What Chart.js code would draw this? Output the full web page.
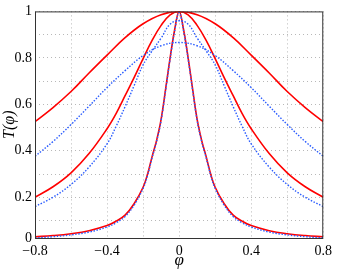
<!DOCTYPE html>
<html>
<head>
<meta charset="utf-8">
<script src="https://cdn.jsdelivr.net/npm/chart.js@4"></script>
<style>
  html, body { margin: 0; padding: 0; background: #fff; }
  #wrap { width: 337px; height: 273px; }
</style>
</head>
<body>
<div id="wrap"><canvas id="c"></canvas></div>
<script>
// values
const phiWide = [-0.8, -0.7, -0.6, -0.5, -0.4, -0.3, -0.2, -0.1, 0, 0.1, 0.2, 0.3, 0.4, 0.5, 0.6, 0.7, 0.8]
const redWide  = [0.525, 0.586, 0.655, 0.735, 0.812, 0.887, 0.947, 0.986, 1, 0.986, 0.947, 0.887, 0.812, 0.735, 0.655, 0.586, 0.525]
const blueWide = [0.376, 0.44, 0.513, 0.592, 0.672, 0.745, 0.81, 0.852, 0.866, 0.852, 0.81, 0.745, 0.672, 0.592, 0.513, 0.44, 0.376]

const phiMid = [-0.8, -0.7, -0.6, -0.5, -0.4, -0.35, -0.3, -0.25, -0.2, -0.15, -0.1, -0.05, 0,
                0.05, 0.1, 0.15, 0.2, 0.25, 0.3, 0.35, 0.4, 0.5, 0.6, 0.7, 0.8]
const redMid  = [0.2, 0.245, 0.305, 0.388, 0.495, 0.56, 0.637, 0.715, 0.797, 0.875, 0.94, 0.985, 1,
                 0.985, 0.94, 0.875, 0.797, 0.715, 0.637, 0.56, 0.495, 0.388, 0.305, 0.245, 0.2]
const blueMid = [0.16, 0.2, 0.255, 0.33, 0.43, 0.505, 0.59, 0.68, 0.77, 0.83, 0.885, 0.945, 0.96,
                 0.945, 0.885, 0.83, 0.77, 0.68, 0.59, 0.505, 0.43, 0.33, 0.255, 0.2, 0.16]

const phiNarrow = [-0.8, -0.7, -0.6, -0.5, -0.4, -0.35, -0.3, -0.25, -0.2, -0.175, -0.15, -0.125, -0.1, -0.075, -0.05, -0.025, 0,
                   0.025, 0.05, 0.075, 0.1, 0.125, 0.15, 0.175, 0.2, 0.25, 0.3, 0.35, 0.4, 0.5, 0.6, 0.7, 0.8]
const redNarrow  = [0.03, 0.035, 0.043, 0.056, 0.078, 0.097, 0.123, 0.172, 0.243, 0.3, 0.375, 0.445, 0.535, 0.665, 0.8, 0.92, 1,
                    0.92, 0.8, 0.665, 0.535, 0.445, 0.375, 0.3, 0.243, 0.172, 0.123, 0.097, 0.078, 0.056, 0.043, 0.035, 0.03]
const blueNarrow = [0.025, 0.03, 0.038, 0.05, 0.072, 0.09, 0.117, 0.166, 0.238, 0.295, 0.37, 0.44, 0.53, 0.66, 0.795, 0.915, 0.995,
                    0.915, 0.795, 0.66, 0.53, 0.44, 0.37, 0.295, 0.238, 0.166, 0.117, 0.09, 0.072, 0.05, 0.038, 0.03, 0.025]

const yBottom = 0.0245   // the "0" tick sits a little above zero in the picture
const yTicks = [yBottom, 0.1, 0.2, 0.3, 0.4, 0.5, 0.6, 0.7, 0.8, 0.9, 1]

const RED = "#ff0000"
const BLUE = "#2a5cff"
const SERIF = "'Liberation Serif', 'DejaVu Serif', serif"

const pts = (xs, ys) => xs.map((x, i) => ({ x, y: ys[i] }))
const blue = (xs, ys) => ({ data: pts(xs, ys), borderColor: BLUE, borderWidth: 1.4, borderDash: [1.5, 1.6] })
const red = (xs, ys) => ({ data: pts(xs, ys), borderColor: RED, borderWidth: 1.6 })

const frame = {
  id: "frame",
  afterDatasetsDraw(chart) {
    const { ctx, chartArea: a } = chart
    ctx.save()
    ctx.strokeStyle = "#333"
    ctx.lineWidth = 1
    ctx.strokeRect(a.left + 0.5, a.top + 0.5, a.right - a.left - 1, a.bottom - a.top)
    ctx.restore()
  }
}

new Chart(document.getElementById("c"), {
  type: "line",
  data: {
    datasets: [
      blue(phiNarrow, blueNarrow), blue(phiMid, blueMid), blue(phiWide, blueWide),
      red(phiNarrow, redNarrow), red(phiMid, redMid), red(phiWide, redWide)
    ]
  },
  options: {
    responsive: true,
    maintainAspectRatio: false,
    animation: false,
    layout: { padding: { top: 11, right: 13, left: 0, bottom: 0 } },
    elements: { point: { radius: 0 }, line: { tension: 0.4, fill: false } },
    plugins: { legend: { display: false }, tooltip: { enabled: false } },
    scales: {
      x: {
        type: "linear", min: -0.8, max: 0.8,
        afterFit: s => { s.height = 35 },
        grid: { color: "#b8b8b8", drawTicks: false, lineWidth: 1 },
        border: { display: false, dash: [1, 3] },
        ticks: {
          stepSize: 0.2, padding: 5, color: "#000", maxRotation: 0, autoSkip: false,
          font: { family: SERIF, size: 14 },
          callback: v => {
            const k = Math.round(v * 10)
            if (k % 4 !== 0) return ""
            const s = (Math.abs(k) / 10).toString()
            return k < 0 ? "\u2212" + s : s
          }
        },
        title: { display: true, text: "φ", color: "#000", padding: { top: 0, bottom: 2 },
                 font: { family: SERIF, size: 17, style: "italic" } }
      },
      y: {
        min: yBottom, max: 1,
        afterBuildTicks: s => { s.ticks = yTicks.map(value => ({ value })) },
        afterFit: s => { s.width = 35 },
        grid: { color: "#b8b8b8", drawTicks: false, lineWidth: 1 },
        border: { display: false, dash: [1, 3] },
        ticks: {
          padding: 3, color: "#000", autoSkip: false,
          font: { family: SERIF, size: 14 },
          callback: v => {
            if (v < 0.05) return "0"
            const k = Math.round(v * 10)
            return k % 2 === 0 ? (k / 10).toString() : ""
          }
        },
        title: { display: true, text: "T(φ)", color: "#000", padding: { top: 0, bottom: 0 },
                 font: { family: SERIF, size: 16, style: "italic" } }
      }
    }
  },
  plugins: [frame]
})
</script>
</body>
</html>
